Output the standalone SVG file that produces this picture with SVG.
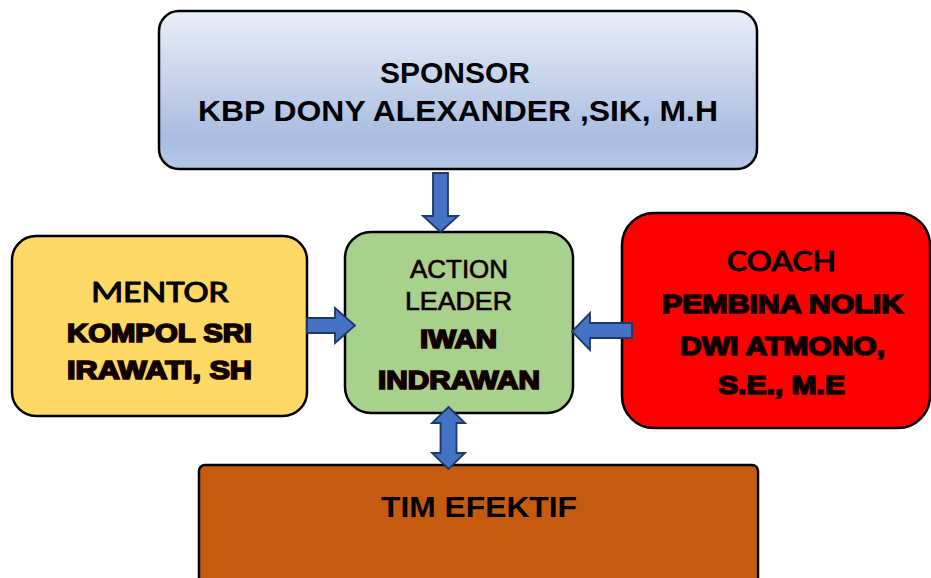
<svg xmlns="http://www.w3.org/2000/svg" width="931" height="578" viewBox="0 0 931 578">
<defs>
<linearGradient id="gSponsor" x1="0" y1="0" x2="0" y2="1">
<stop offset="0" stop-color="#eaeef8"/>
<stop offset="0.8" stop-color="#a9bde1"/>
<stop offset="1" stop-color="#b6c7e7"/>
</linearGradient>
</defs>
<style>
.box{stroke:#000;stroke-width:2.5}
.arrow{fill:#4472c4;stroke:#1f3864;stroke-width:1.8;stroke-linejoin:miter}
.b{font-family:"Liberation Sans",Arial,sans-serif;font-weight:bold;fill:#000}
.r{font-family:"Liberation Sans",Arial,sans-serif;fill:#000}
.cal{font-family:Carlito,Lato,"Liberation Sans",sans-serif;fill:#000;stroke:#000;stroke-width:0.9}
.heavy{font-family:"Liberation Sans",Arial,sans-serif;font-weight:bold;fill:#000;stroke:#1a0000;stroke-width:1.7;font-size:25px}
</style>
<rect width="931" height="578" fill="#fff"/>
<g id="sponsor">
<rect class="box" x="159" y="11" width="598" height="158" rx="20" fill="url(#gSponsor)"/>
<text class="b" x="455" y="83" font-size="30" text-anchor="middle">SPONSOR</text>
<text class="b" x="198" y="121" font-size="30" textLength="520" lengthAdjust="spacingAndGlyphs">KBP DONY ALEXANDER ,SIK, M.H</text>
</g>
<g id="mentor">
<rect class="box" x="12" y="236" width="295" height="180" rx="24" fill="#ffd966"/>
<text class="cal" x="91" y="302" font-size="31" textLength="138" lengthAdjust="spacingAndGlyphs">MENTOR</text>
<text class="heavy" x="67" y="342" textLength="185" lengthAdjust="spacingAndGlyphs">KOMPOL SRI</text>
<text class="heavy" x="67" y="379" textLength="185" lengthAdjust="spacingAndGlyphs">IRAWATI, SH</text>
</g>
<g id="action-leader">
<rect class="box" x="345" y="232" width="228" height="181" rx="26" fill="#a9d18e"/>
<text class="r" x="410" y="278" font-size="25" textLength="98" lengthAdjust="spacingAndGlyphs" stroke="#2a0000" stroke-width="0.7">ACTION</text>
<text class="r" x="405" y="310" font-size="25" textLength="107" lengthAdjust="spacingAndGlyphs" stroke="#2a0000" stroke-width="0.7">LEADER</text>
<text class="heavy" x="420" y="348" textLength="77" lengthAdjust="spacingAndGlyphs" stroke="#3a0000">IWAN</text>
<text class="heavy" x="378" y="389" textLength="162" lengthAdjust="spacingAndGlyphs" stroke="#3a0000">INDRAWAN</text>
</g>
<g id="coach">
<rect class="box" x="622" y="213" width="308" height="215" rx="32" fill="#ff0000"/>
<text class="cal" x="727" y="271" font-size="31" textLength="109" lengthAdjust="spacingAndGlyphs">COACH</text>
<text class="heavy" x="662" y="313" textLength="241" lengthAdjust="spacingAndGlyphs">PEMBINA NOLIK</text>
<text class="heavy" x="680" y="355" textLength="205" lengthAdjust="spacingAndGlyphs">DWI ATMONO,</text>
<text class="heavy" x="718" y="394" textLength="127" lengthAdjust="spacingAndGlyphs">S.E., M.E</text>
</g>
<g id="tim-efektif">
<rect class="box" x="199" y="465" width="559" height="130" rx="6" fill="#c55a11"/>
<text class="b" x="381" y="517" font-size="30" textLength="196" lengthAdjust="spacingAndGlyphs">TIM EFEKTIF</text>
</g>
<g id="connectors">
<path class="arrow" d="M433,173 H448 V216 H458 L440.5,232 L423,216 H433 Z"/>
<path class="arrow" d="M307,318 H335 V308 L355,325.5 L335,343 V333 H307 Z"/>
<path class="arrow" d="M632,323 H590 V313 L572,331.5 L590,350 V338 H632 Z"/>
<path class="arrow" d="M448.5,407 L465,423 H456.5 V453 H465 L448.5,469 L432,453 H440.5 V423 H432 Z"/>
</g>
</svg>
